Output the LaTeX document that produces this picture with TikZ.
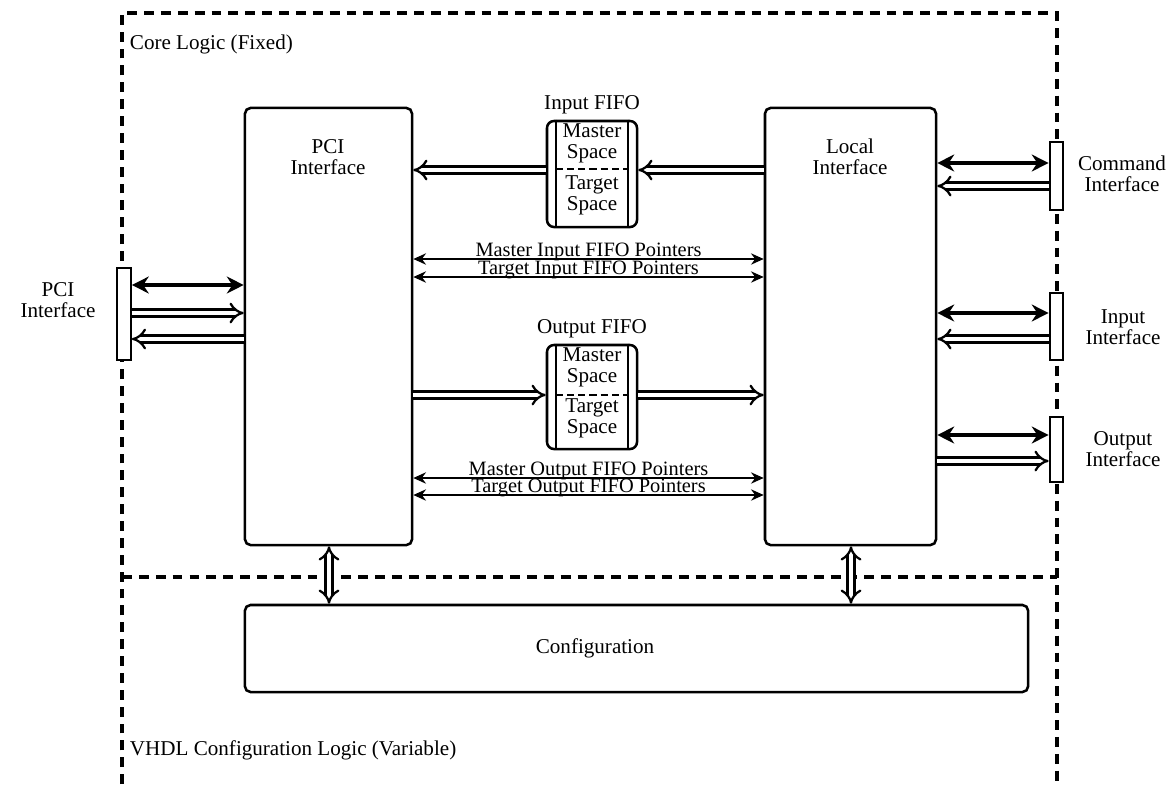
\documentclass[tikz,border=0pt]{standalone}
\usepackage{fontspec}
\setmainfont{Liberation Serif}
\usetikzlibrary{arrows.meta, positioning}

\begin{document}
\begin{tikzpicture}[
    x=0.025cm, y=-0.025cm,
    font=\fontsize{15}{15}\selectfont,
    block/.style={rectangle, draw, line width=1.8pt, fill=white, rounded corners=4pt, inner sep=0pt},
    fifo/.style={block, rounded corners=5pt, minimum width=2.25cm},
    port/.style={rectangle, draw, line width=1.5pt, fill=white, minimum width=0.34cm, inner sep=0pt},
    region/.style={draw, line width=2.4pt, dash pattern=on 7pt off 5pt},
    wire/.style={draw, line width=3.4pt, >={Stealth[length=12pt,width=12pt]}, <->},
    bus/.style={draw, double, line width=1.6pt, double distance=3.4pt},
    ptr/.style={draw, line width=1.5pt, >={Stealth[length=9pt,width=8pt]}, <->},
    lbl/.style={midway, anchor=base, inner sep=0pt, yshift=1.5pt, font=\fontsize{14.5}{14.5}\selectfont},
    txt/.style={align=center, inner sep=1pt}
]
    \useasboundingbox (0,0) rectangle (1170,784);

    % Regions
    \draw[region] (122,784) -- (122,13) -- (1057,13) -- (1057,784);
    \draw[region] (122,577) -- (1057,577);
    \node[anchor=west] (corelbl) at (125,44) {Core Logic (Fixed)};
    \node[anchor=west] (vhdllbl) at (125,750) {VHDL Configuration Logic (Variable)};

    % Blocks
    \node[block, minimum width=4.175cm, minimum height=10.925cm] (pci) at (328.5,326.5) {};
    \node[block, minimum width=4.275cm, minimum height=10.925cm] (local) at (850.5,326.5) {};
    \node[block, minimum width=19.575cm, minimum height=2.175cm] (config) at (636.5,648.5) {};
    \node[txt] (pcitxt) at (328,157) {PCI\\Interface};
    \node[txt] (localtxt) at (850,157) {Local\\Interface};
    \node[txt] (configtxt) at (595,648) {Configuration};

    % FIFOs
    \node[fifo, minimum height=2.65cm] (fifoin) at (592,174) {};
    \node[fifo, minimum height=2.6cm] (fifoout) at (592,397) {};
    \node[txt, above=3pt of fifoin] (fifoinlbl) {Input FIFO};
    \node[txt, above=3pt of fifoout] (fifooutlbl) {Output FIFO};
    \foreach \f in {fifoin, fifoout} {
        \draw[line width=1.5pt] ([xshift=0.25cm]\f.north west) -- ([xshift=0.25cm]\f.south west);
        \draw[line width=1.5pt] ([xshift=-0.25cm]\f.north east) -- ([xshift=-0.25cm]\f.south east);
    }
    \draw[line width=1.8pt, dash pattern=on 5pt off 3pt] ([xshift=0.25cm]fifoin.west |- 0,169) -- ([xshift=-0.25cm]fifoin.east |- 0,169);
    \draw[line width=1.8pt, dash pattern=on 5pt off 3pt] ([xshift=0.25cm]fifoout.west |- 0,395) -- ([xshift=-0.25cm]fifoout.east |- 0,395);
    \node[txt] (inmaster) at (592,143) {Master\\Space};
    \node[txt] (intarget) at (592,195) {Target\\Space};
    \node[txt] (outmaster) at (592,367) {Master\\Space};
    \node[txt] (outtarget) at (592,418) {Target\\Space};

    % Ports
    \node[port, minimum height=2.3cm] (pciport) at (124,314) {};
    \node[port, minimum height=1.7cm] (cmdport) at (1056.5,176) {};
    \node[port, minimum height=1.675cm] (inport) at (1056.5,326.5) {};
    \node[port, minimum height=1.625cm] (outport) at (1056.5,449.5) {};
    \node[txt] (pcilbl) at (58,300) {PCI\\Interface};
    \node[txt] (cmdlbl) at (1122,174) {Command\\Interface};
    \node[txt] (inlbl) at (1123,327) {Input\\Interface};
    \node[txt] (outlbl) at (1123,449) {Output\\Interface};

    % Data paths
    \path[bus, -Implies] (local.west |- 0,170) -- (fifoin.east |- 0,170);
    \path[bus, -Implies] (fifoin.west |- 0,170) -- (pci.east |- 0,170);
    \path[bus, -Implies] (pci.east |- 0,395) -- (fifoout.west |- 0,395);
    \path[bus, -Implies] (fifoout.east |- 0,395) -- (local.west |- 0,395);

    % Pointers
    \path[ptr] (pci.east |- 0,259) -- node[lbl] {Master Input FIFO Pointers} (local.west |- 0,259);
    \path[ptr] (pci.east |- 0,277) -- node[lbl] {Target Input FIFO Pointers} (local.west |- 0,277);
    \path[ptr] (pci.east |- 0,478) -- node[lbl] {Master Output FIFO Pointers} (local.west |- 0,478);
    \path[ptr] (pci.east |- 0,495) -- node[lbl] {Target Output FIFO Pointers} (local.west |- 0,495);

    % External interfaces
    \path[wire] (pciport.east |- 0,285) -- (pci.west |- 0,285);
    \path[bus, -Implies] (pciport.east |- 0,313) -- (pci.west |- 0,313);
    \path[bus, -Implies] (pci.west |- 0,339) -- (pciport.east |- 0,339);
    \path[wire] (local.east |- 0,163) -- (cmdport.west |- 0,163);
    \path[bus, -Implies] (cmdport.west |- 0,186) -- (local.east |- 0,186);
    \path[wire] (local.east |- 0,313) -- (inport.west |- 0,313);
    \path[bus, -Implies] (inport.west |- 0,339) -- (local.east |- 0,339);
    \path[wire] (local.east |- 0,435) -- (outport.west |- 0,435);
    \path[bus, -Implies] (local.east |- 0,461) -- (outport.west |- 0,461);

    % Configuration links
    \path[bus, Implies-Implies] (pci.south -| 329,0) -- (config.north -| 329,0);
    \path[bus, Implies-Implies] (local.south -| 851,0) -- (config.north -| 851,0);
\end{tikzpicture}
\end{document}
